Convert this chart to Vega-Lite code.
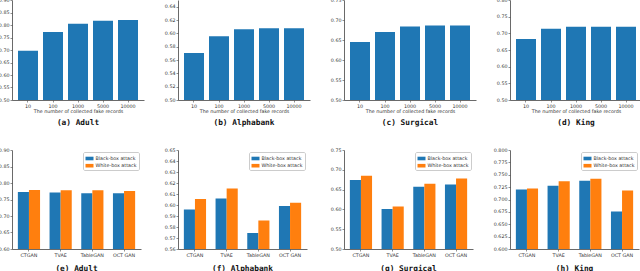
{
 "$schema": "https://vega.github.io/schema/vega-lite/v6.json",
 "padding": {"left": -2, "top": -3, "right": 0, "bottom": 0},
 "background": "white",
 "config": {
  "view": {"stroke": null},
  "font": "DejaVu Sans",
  "axis": {"labelFontSize": 4.8, "labelFont": "DejaVu Sans", "titleFont": "DejaVu Sans", "titleFontSize": 4.8, "titleFontWeight": "normal", "tickSize": 2, "labelPadding": 1, "titlePadding": 1, "domainColor": "#444", "tickColor": "#444", "labelColor": "#333", "titleColor": "#333", "grid": false, "domainWidth": 0.8, "tickWidth": 0.6},
  "title": {"font": "DejaVu Sans Mono", "fontSize": 7.8, "fontWeight": "bold", "color": "#111", "orient": "bottom", "offset": 5},
  "legend": {"orient": "top-right", "title": null, "labelFontSize": 4.8, "labelFont": "DejaVu Sans", "labelColor": "#333", "labelOffset": 2, "padding": 2.5, "rowPadding": 1.2, "strokeColor": "#ccc", "fillColor": "white", "offset": 2, "symbolSize": 64, "symbolType": "M-1,-0.45H1V0.45H-1Z", "symbolStrokeWidth": 0, "cornerRadius": 1.5}
 },
 "spacing": 20,
 "vconcat": [
  {
   "spacing": 34,
   "bounds": "flush",
   "resolve": {"scale": {"x": "independent", "y": "independent"}},
   "hconcat": [
    {
     "width": 132, "height": 100,
     "title": {"text": "(a) Adult"},
     "data": {"values": [{"n": "10", "v": 0.697}, {"n": "100", "v": 0.772}, {"n": "1000", "v": 0.805}, {"n": "5000", "v": 0.817}, {"n": "10000", "v": 0.82}]},
     "mark": {"type": "bar", "color": "#1f77b4", "clip": true},
     "encoding": {
      "x": {"field": "n", "type": "ordinal", "sort": null, "scale": {"paddingInner": 0.2, "paddingOuter": 0.24}, "axis": {"title": "The number of collected fake records", "labelAngle": 0}},
      "y": {"field": "v", "type": "quantitative", "scale": {"domain": [0.5, 0.9], "nice": false, "zero": false}, "axis": {"title": null, "values": [0.5, 0.55, 0.6, 0.65, 0.7, 0.75, 0.8, 0.85, 0.9], "format": ".2f"}}
     }
    },
    {
     "width": 132, "height": 100,
     "title": {"text": "(b) Alphabank"},
     "data": {"values": [{"n": "10", "v": 0.5705}, {"n": "100", "v": 0.5957}, {"n": "1000", "v": 0.6063}, {"n": "5000", "v": 0.6078}, {"n": "10000", "v": 0.6078}]},
     "mark": {"type": "bar", "color": "#1f77b4", "clip": true},
     "encoding": {
      "x": {"field": "n", "type": "ordinal", "sort": null, "scale": {"paddingInner": 0.2, "paddingOuter": 0.24}, "axis": {"title": "The number of collected fake records", "labelAngle": 0}},
      "y": {"field": "v", "type": "quantitative", "scale": {"domain": [0.5, 0.65], "nice": false, "zero": false}, "axis": {"title": null, "values": [0.5, 0.52, 0.54, 0.56, 0.58, 0.6, 0.62, 0.64], "format": ".2f"}}
     }
    },
    {
     "width": 132, "height": 100,
     "title": {"text": "(c) Surgical"},
     "data": {"values": [{"n": "10", "v": 0.645}, {"n": "100", "v": 0.670}, {"n": "1000", "v": 0.684}, {"n": "5000", "v": 0.686}, {"n": "10000", "v": 0.686}]},
     "mark": {"type": "bar", "color": "#1f77b4", "clip": true},
     "encoding": {
      "x": {"field": "n", "type": "ordinal", "sort": null, "scale": {"paddingInner": 0.2, "paddingOuter": 0.24}, "axis": {"title": "The number of collected fake records", "labelAngle": 0}},
      "y": {"field": "v", "type": "quantitative", "scale": {"domain": [0.5, 0.75], "nice": false, "zero": false}, "axis": {"title": null, "values": [0.5, 0.55, 0.6, 0.65, 0.7, 0.75], "format": ".2f"}}
     }
    },
    {
     "width": 132, "height": 100,
     "title": {"text": "(d) King"},
     "data": {"values": [{"n": "10", "v": 0.683}, {"n": "100", "v": 0.714}, {"n": "1000", "v": 0.720}, {"n": "5000", "v": 0.720}, {"n": "10000", "v": 0.7195}]},
     "mark": {"type": "bar", "color": "#1f77b4", "clip": true},
     "encoding": {
      "x": {"field": "n", "type": "ordinal", "sort": null, "scale": {"paddingInner": 0.2, "paddingOuter": 0.24}, "axis": {"title": "The number of collected fake records", "labelAngle": 0}},
      "y": {"field": "v", "type": "quantitative", "scale": {"domain": [0.5, 0.8], "nice": false, "zero": false}, "axis": {"title": null, "values": [0.5, 0.55, 0.6, 0.65, 0.7, 0.75, 0.8], "format": ".2f"}}
     }
    }
   ]
  },
  {
   "spacing": 37,
   "bounds": "flush",
   "resolve": {"scale": {"x": "independent", "y": "independent", "color": "independent", "xOffset": "independent"}, "legend": {"color": "independent"}},
   "hconcat": [
    {
     "width": 129, "height": 99,
     "title": {"text": "(e) Adult", "offset": 8},
     "data": {"values": [
      {"m": "CTGAN", "a": "Black-box attack", "v": 0.773}, {"m": "CTGAN", "a": "White-box attack", "v": 0.779},
      {"m": "TVAE", "a": "Black-box attack", "v": 0.771}, {"m": "TVAE", "a": "White-box attack", "v": 0.778},
      {"m": "TableGAN", "a": "Black-box attack", "v": 0.769}, {"m": "TableGAN", "a": "White-box attack", "v": 0.778},
      {"m": "OCT GAN", "a": "Black-box attack", "v": 0.769}, {"m": "OCT GAN", "a": "White-box attack", "v": 0.776}
     ]},
     "mark": {"type": "bar", "clip": true},
     "encoding": {
      "x": {"field": "m", "type": "nominal", "sort": ["CTGAN", "TVAE", "TableGAN", "OCT GAN"], "scale": {"paddingInner": 0.3, "paddingOuter": 0.185}, "axis": {"title": null, "labelAngle": 0}},
      "xOffset": {"field": "a", "type": "nominal", "scale": {"paddingInner": 0, "paddingOuter": 0}},
      "y": {"field": "v", "type": "quantitative", "scale": {"domain": [0.6, 0.9], "nice": false, "zero": false}, "axis": {"title": null, "values": [0.6, 0.65, 0.7, 0.75, 0.8, 0.85, 0.9], "format": ".2f"}},
      "color": {"field": "a", "type": "nominal", "scale": {"domain": ["Black-box attack", "White-box attack"], "range": ["#1f77b4", "#ff7f0e"]}}
     }
    },
    {
     "width": 129, "height": 99,
     "title": {"text": "(f) Alphabank", "offset": 8},
     "data": {"values": [
      {"m": "CTGAN", "a": "Black-box attack", "v": 0.596}, {"m": "CTGAN", "a": "White-box attack", "v": 0.6055},
      {"m": "TVAE", "a": "Black-box attack", "v": 0.606}, {"m": "TVAE", "a": "White-box attack", "v": 0.615},
      {"m": "TableGAN", "a": "Black-box attack", "v": 0.5745}, {"m": "TableGAN", "a": "White-box attack", "v": 0.586},
      {"m": "OCT GAN", "a": "Black-box attack", "v": 0.599}, {"m": "OCT GAN", "a": "White-box attack", "v": 0.602}
     ]},
     "mark": {"type": "bar", "clip": true},
     "encoding": {
      "x": {"field": "m", "type": "nominal", "sort": ["CTGAN", "TVAE", "TableGAN", "OCT GAN"], "scale": {"paddingInner": 0.3, "paddingOuter": 0.185}, "axis": {"title": null, "labelAngle": 0}},
      "xOffset": {"field": "a", "type": "nominal", "scale": {"paddingInner": 0, "paddingOuter": 0}},
      "y": {"field": "v", "type": "quantitative", "scale": {"domain": [0.56, 0.65], "nice": false, "zero": false}, "axis": {"title": null, "values": [0.56, 0.57, 0.58, 0.59, 0.6, 0.61, 0.62, 0.63, 0.64, 0.65], "format": ".2f"}},
      "color": {"field": "a", "type": "nominal", "scale": {"domain": ["Black-box attack", "White-box attack"], "range": ["#1f77b4", "#ff7f0e"]}}
     }
    },
    {
     "width": 129, "height": 99,
     "title": {"text": "(g) Surgical", "offset": 8},
     "data": {"values": [
      {"m": "CTGAN", "a": "Black-box attack", "v": 0.674}, {"m": "CTGAN", "a": "White-box attack", "v": 0.685},
      {"m": "TVAE", "a": "Black-box attack", "v": 0.601}, {"m": "TVAE", "a": "White-box attack", "v": 0.6075},
      {"m": "TableGAN", "a": "Black-box attack", "v": 0.657}, {"m": "TableGAN", "a": "White-box attack", "v": 0.665},
      {"m": "OCT GAN", "a": "Black-box attack", "v": 0.663}, {"m": "OCT GAN", "a": "White-box attack", "v": 0.678}
     ]},
     "mark": {"type": "bar", "clip": true},
     "encoding": {
      "x": {"field": "m", "type": "nominal", "sort": ["CTGAN", "TVAE", "TableGAN", "OCT GAN"], "scale": {"paddingInner": 0.3, "paddingOuter": 0.185}, "axis": {"title": null, "labelAngle": 0}},
      "xOffset": {"field": "a", "type": "nominal", "scale": {"paddingInner": 0, "paddingOuter": 0}},
      "y": {"field": "v", "type": "quantitative", "scale": {"domain": [0.5, 0.75], "nice": false, "zero": false}, "axis": {"title": null, "values": [0.5, 0.55, 0.6, 0.65, 0.7, 0.75], "format": ".2f"}},
      "color": {"field": "a", "type": "nominal", "scale": {"domain": ["Black-box attack", "White-box attack"], "range": ["#1f77b4", "#ff7f0e"]}}
     }
    },
    {
     "width": 129, "height": 99,
     "title": {"text": "(h) King", "offset": 8},
     "data": {"values": [
      {"m": "CTGAN", "a": "Black-box attack", "v": 0.720}, {"m": "CTGAN", "a": "White-box attack", "v": 0.722},
      {"m": "TVAE", "a": "Black-box attack", "v": 0.728}, {"m": "TVAE", "a": "White-box attack", "v": 0.737},
      {"m": "TableGAN", "a": "Black-box attack", "v": 0.738}, {"m": "TableGAN", "a": "White-box attack", "v": 0.742},
      {"m": "OCT GAN", "a": "Black-box attack", "v": 0.676}, {"m": "OCT GAN", "a": "White-box attack", "v": 0.718}
     ]},
     "mark": {"type": "bar", "clip": true},
     "encoding": {
      "x": {"field": "m", "type": "nominal", "sort": ["CTGAN", "TVAE", "TableGAN", "OCT GAN"], "scale": {"paddingInner": 0.3, "paddingOuter": 0.185}, "axis": {"title": null, "labelAngle": 0}},
      "xOffset": {"field": "a", "type": "nominal", "scale": {"paddingInner": 0, "paddingOuter": 0}},
      "y": {"field": "v", "type": "quantitative", "scale": {"domain": [0.6, 0.8], "nice": false, "zero": false}, "axis": {"title": null, "values": [0.6, 0.625, 0.65, 0.675, 0.7, 0.725, 0.75, 0.775, 0.8], "format": ".3f"}},
      "color": {"field": "a", "type": "nominal", "scale": {"domain": ["Black-box attack", "White-box attack"], "range": ["#1f77b4", "#ff7f0e"]}}
     }
    }
   ]
  }
 ]
}
